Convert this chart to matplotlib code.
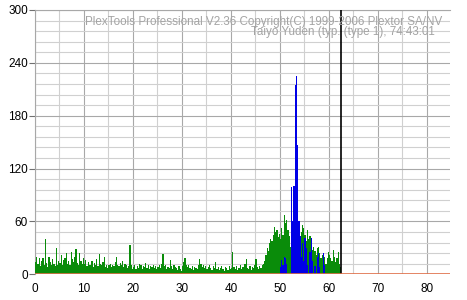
import numpy as np
import matplotlib
matplotlib.use("Agg")
import matplotlib.pyplot as plt
from matplotlib.ticker import MultipleLocator

# ---- data ----
bin_width = 0.25  # minutes per sample
c1_values = [
    # 0-5
    14, 20, 12, 18, 9, 15, 19, 11, 40, 13, 8, 20, 14, 10, 17, 12, 9, 30, 11, 15,
    # 5-10
    13, 22, 10, 16, 18, 24, 12, 15, 11, 25, 17, 14, 20, 29, 13, 10, 24, 15, 12, 18,
    # 10-15
    12, 16, 9, 14, 11, 10, 15, 8, 13, 11, 17, 9, 23, 12, 10, 14, 20, 8, 11, 7,
    # 15-20
    10, 12, 8, 11, 9, 14, 20, 11, 9, 13, 10, 15, 8, 12, 11, 7, 9, 33, 10, 6,
    # 20-25
    8, 11, 6, 9, 7, 12, 10, 6, 9, 8, 13, 7, 10, 6, 9, 8, 11, 7, 9, 6,
    # 25-30
    8, 10, 7, 12, 23, 9, 11, 6, 8, 7, 16, 9, 6, 10, 8, 7, 5, 9, 6, 4,
    # 30-35
    9, 14, 19, 11, 8, 10, 7, 6, 9, 5, 8, 7, 6, 10, 17, 12, 8, 10, 7, 9,
    # 35-40
    6, 8, 10, 7, 5, 9, 7, 14, 6, 8, 5, 7, 9, 6, 4, 8, 7, 5, 9, 6,
    # 40-45
    7, 25, 8, 6, 9, 5, 7, 10, 6, 8, 8, 12, 17, 7, 6, 9, 5, 8, 7, 10,
    # 45-50
    17, 8, 6, 9, 7, 10, 12, 15, 22, 30, 26, 35, 40, 38, 45, 54, 48, 50, 42, 46,
    # 50-55
    40, 52, 45, 67, 58, 62, 50, 44, 31, 38, 30, 28, 35, 25, 30, 35, 40, 48, 56, 52,
    # 55-60
    45, 38, 50, 40, 43, 35, 28, 31, 26, 22, 30, 31, 24, 18, 22, 15, 20, 12, 18, 25,
    # 60-62.5
    22, 18, 15, 28, 20, 14, 18, 25, 12, 8,
]
c2_minutes = [50.0, 50.25, 50.5, 50.75, 51.0, 51.25, 52.25, 52.5, 52.75, 53.0, 53.25,
              53.5, 53.75, 54.0, 54.25, 54.5, 54.75, 55.0, 55.25, 55.5, 56.0, 56.25,
              56.5, 57.0, 57.5, 57.75, 58.0, 58.75, 59.0]
c2_values = [8, 16, 10, 20, 18, 12, 99, 60, 100, 215, 225,
             147, 60, 43, 20, 35, 15, 41, 30, 10, 25, 41,
             15, 9, 20, 24, 8, 24, 10]
disc_end = 62.45
x_ticks = [0, 10, 20, 30, 40, 50, 60, 70, 80]
y_ticks = [0, 60, 120, 180, 240, 300]
header_lines = ["PlexTools Professional V2.36 Copyright(C) 1999-2006 Plextor SA/NV",
                "Taiyo Yuden (typ. (type 1), 74:43:01"]

plt.rcParams['font.family'] = ['Liberation Sans', 'DejaVu Sans']

fig = plt.figure(figsize=(4.67, 3.0), dpi=100)
ax = fig.add_axes([35/467, 25.7/300, 415/467, 264.3/300])

c1_x = np.arange(len(c1_values)) * bin_width
ax.bar(c1_x, c1_values, width=bin_width, align='edge', color='#0a8c0a', linewidth=0, zorder=3)
ax.bar(c2_minutes, c2_values, width=bin_width, align='edge', color='#0000e6', linewidth=0, zorder=4)
ax.axvline(disc_end, color='black', linewidth=1.2, zorder=5)
ax.axhline(0, color='#e0704a', linewidth=1.2, zorder=6)

ax.set_xlim(0, 84.7)
ax.set_ylim(0, 300)
ax.set_xticks(x_ticks)
ax.set_yticks(y_ticks)
ax.set_yticklabels(['0', '60', '120', '180', '240', '300'])
ax.xaxis.set_minor_locator(MultipleLocator(5))
ax.yaxis.set_minor_locator(MultipleLocator(12))
ax.grid(which='major', color='#a8a8a8', linewidth=0.8, zorder=0)
ax.grid(which='minor', color='#d0d0d0', linewidth=0.8, zorder=0)
ax.set_axisbelow(True)
for s in ['right', 'bottom']:
    ax.spines[s].set_visible(False)
ax.spines['left'].set_color('#a8a8a8')
ax.spines['top'].set_color('#a8a8a8')
ax.tick_params(axis='x', which='both', length=0, pad=6, labelsize=8.5)
ax.tick_params(axis='y', which='major', length=4, color='#707070', pad=1, labelsize=8.5)
ax.tick_params(axis='y', which='minor', length=0)

ax.text(442/467, 1 - 21.5/300, header_lines[0], transform=fig.transFigure,
        ha='right', va='center', fontsize=8.4, color='#a4a4a4', zorder=7)
ax.text(435/467, 1 - 32/300, header_lines[1], transform=fig.transFigure,
        ha='right', va='center', fontsize=8.4, color='#a4a4a4', zorder=7)

fig.savefig('out.png', dpi=100)
